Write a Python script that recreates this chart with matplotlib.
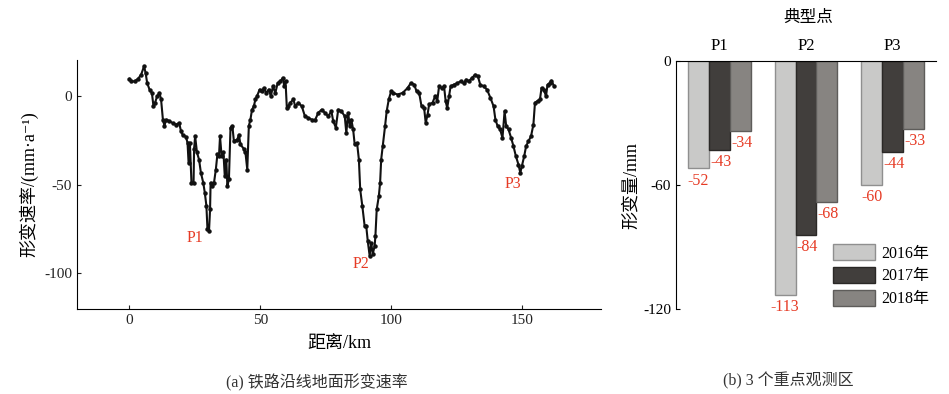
import numpy as np
import matplotlib as mpl
mpl.use("Agg")
import matplotlib.pyplot as plt

plt.rcParams['font.family'] = ['Liberation Serif', 'Noto Sans CJK SC', 'DejaVu Serif']
plt.rcParams['axes.unicode_minus'] = False

# (a) deformation rate along the railway
km = [0, 0.8, 2, 3.3, 4.5, 5.6, 6.2, 6.8, 7.7, 8.6, 9.2, 9.8, 10.6, 11.5, 12.1, 12.8,
      13.4, 14, 15.3, 16.5, 17.8, 19, 19.7, 20.3, 21.6, 22.2, 22.6, 23.1, 23.7, 24.5,
      24.7, 25.1, 25.8, 26.6, 27.3, 28.2, 28.8, 29.4, 29.8, 30.4, 30.8, 31, 31.7, 32.3,
      33, 33.6, 34.2, 34.6, 35.2, 35.9, 36.4, 37, 37.4, 38, 38.6, 39.3, 39.9, 41.2, 41.8,
      42.4, 43.7, 44.3, 45, 45.6, 46.2, 46.8, 47.5, 48.1, 48.7, 49.7, 50.6, 51.3, 52.3,
      53.2, 54, 54.8, 55.7, 56.6, 57.6, 58.6, 59.1, 59.6, 60.1, 60.7, 61.4, 62.6, 63.3,
      64.5, 65.8, 67, 68.3, 69.6, 70.8, 72.1, 73.4, 74.6, 75.9, 77.1, 77.8, 78.8, 79.7,
      80.9, 82.2, 82.8, 83.5, 84.1, 84.7, 85.4, 86, 86.9, 87.6, 88.1, 88.9, 89.8, 90.4,
      91, 91.7, 92.3, 92.9, 93.6, 93.9, 94.4, 95.2, 95.7, 96.1, 96.7, 97.6, 98.2, 99,
      99.9, 100.5, 102.4, 104.3, 106.2, 107.4, 108.7, 109.6, 110.6, 111.5, 112.5, 113.1,
      113.8, 114.4, 115.7, 116.7, 117.5, 118.2, 119.2, 120.1, 120.7, 121.3, 122, 122.6,
      123.9, 125.2, 126.4, 127.7, 128.5, 129.5, 130.8, 132, 133, 133.9, 135.2, 136.5,
      137.8, 139, 139.7, 140.5, 141.5, 142.4, 143.2, 143.8, 144.7, 145.7, 146.6, 147.5,
      148.5, 149.2, 149.8, 150.7, 151.4, 152.3, 153.3, 154.2, 154.8, 155.8, 156.7, 157.3,
      158.2, 159, 159.6, 160.5, 161.1, 162.1]
rate = [9.4, 8, 8, 9.4, 11.8, 16.5, 12.7, 7, 3.4, 1.5, -6, -4, -0.4, 1.5, -2.2, -13.5,
        -17, -13.5, -14.4, -15.4, -16.3, -15.4, -20, -22, -23.2, -26.6, -37.8, -26.6, -49, -49,
        -30, -22.8, -32, -36, -43.4, -49, -54.7, -62, -75, -76, -64, -49, -51, -49,
        -41.6, -33, -34, -23, -34, -32, -45, -36, -51, -47, -18, -17, -25.7, -24.7, -22,
        -27.5, -30, -32, -41.6, -17, -13.5, -8, -6, -2.2, -0.4, 3.4, 2.4, 4.3, 1.5,
        3.4, -0.4, 5.2, 1.5, 7, 8, 10, 5.2, 8, -7, -6, -4, -2.2, -6,
        -4, -6, -11.6, -12.5, -13.5, -14, -9.7, -7.9, -9.7, -11.6, -8.8, -14.4, -18, -7.9,
        -8.8, -11.6, -21, -9.7, -17, -13.5, -19, -27.5, -26.6, -36, -52.8, -62, -73.4, -73.4,
        -82, -90, -83, -89, -84.6, -79, -64, -56.6, -49, -36, -28.5, -17, -8.8, -2.2,
        2.4, 1.5, 0.6, 1.5, 4.3, 7, 6.2, 2.4, 1.5, -6, -7, -15.4,
        -10.7, -5, -4, -0.4, -3, 5.2, 4.3, 5.2, -3, -7, -0.4, 5.2,
        6.2, 7, 8, 7, 9, 8, 10, 11.8, 10.9, 6.2, 5.2, 3.4,
        -1.3, -6, -13.5, -17, -19, -23.8, -8.8, -17, -19, -23.8, -28.5, -34,
        -38.8, -43.4, -39.7, -34, -28.5, -25.7, -22.8, -16.3, -4, -3, -2.2, 4.3,
        3.4, -0.4, 6.2, 7, 8.4, 5.2]
peak_names = ['P1', 'P2', 'P3']
peak_km = [25, 88.3, 146.2]
peak_rate = [-80, -94.5, -49.5]

# (b) deformation at the three typical points
points = ['P1', 'P2', 'P3']
years = ['2016年', '2017年', '2018年']
deform = {
    '2016年': [-52, -113, -60],
    '2017年': [-43, -84, -44],
    '2018年': [-34, -68, -33],
}
bar_colors = ['#c9c9c8', '#413e3c', '#878481']
edge_colors = ['#8f8f8f', '#2a2826', '#5e5c5a']
red = '#e63a24'

fig = plt.figure(figsize=(9.49, 3.94), dpi=100)

# ---------------- left panel ----------------
ax1 = fig.add_axes([0.0811, 0.2157, 0.5522, 0.632])
ax1.plot(km, rate, color='#111111', lw=1.5, marker='o', ms=2.2)
for n, x, y in zip(peak_names, peak_km, peak_rate):
    ax1.text(x, y, n, color=red, fontsize=11.5, ha='center', va='center')
ax1.set_xlim(-20, 180)
ax1.set_ylim(-120, 20)
ax1.set_xticks([0, 50, 100, 150])
ax1.set_yticks([-100, -50, 0])
ax1.spines['top'].set_visible(False)
ax1.spines['right'].set_visible(False)
ax1.tick_params(direction='in', length=3, labelsize=11, colors='#222222')
ax1.set_xlabel('距离/km', fontsize=13, labelpad=6)
ax1.set_ylabel('形变速率/(mm·a⁻¹)', fontsize=13, labelpad=4)

# ---------------- right panel ----------------
ax2 = fig.add_axes([0.7123, 0.2157, 0.274, 0.6295])
xpos = np.arange(len(points))
w = 0.24
for i, yr in enumerate(years):
    xs = xpos + (i - 1) * w
    vals = deform[yr]
    ax2.bar(xs, vals, width=w, color=bar_colors[i], edgecolor=edge_colors[i],
            linewidth=1.0, label=yr)
    for x, v in zip(xs, vals):
        ax2.annotate(str(v), (x, v), xytext=(1 if i else 0, -3), textcoords='offset points',
                     ha='center', va='top', color=red, fontsize=11.5)
ax2.set_xlim(-0.5, 2.5)
ax2.set_ylim(-120, 0)
ax2.set_yticks([-120, -60, 0])
ax2.xaxis.tick_top()
ax2.set_xticks(xpos)
ax2.set_xticklabels(points, fontsize=12)
ax2.tick_params(axis='x', length=0, pad=5)
ax2.tick_params(axis='y', direction='in', length=3, labelsize=11)
ax2.spines['bottom'].set_visible(False)
ax2.spines['right'].set_visible(False)
ax2.set_ylabel('形变量/mm', fontsize=13, labelpad=2)
ax2.legend(loc='upper left', bbox_to_anchor=(833 / 949, 1 - 244 / 394),
           bbox_transform=fig.transFigure, frameon=False, borderpad=0,
           borderaxespad=0, handlelength=2.6, handleheight=1.2,
           labelspacing=0.33, handletextpad=0.4, fontsize=11.5)

fig.text(808 / 949, 1 - 18 / 394, '典型点', ha='center', va='center', fontsize=12)
fig.text(317 / 949, 1 - 383 / 394, '(a) 铁路沿线地面形变速率', ha='center', va='center',
         fontsize=11.5, color='#333333')
fig.text(788 / 949, 1 - 381 / 394, '(b) 3 个重点观测区', ha='center', va='center',
         fontsize=11.5, color='#333333')

fig.savefig('out.png', dpi=100)
